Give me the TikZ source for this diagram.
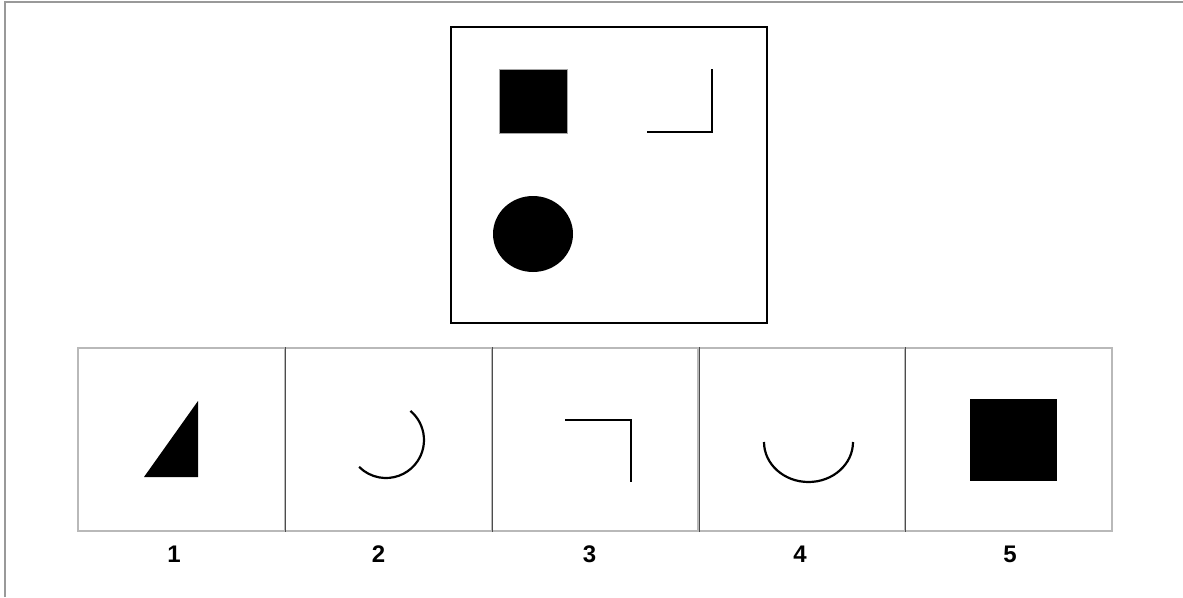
\documentclass[tikz,border=0pt]{standalone}
\usepackage{fontspec}
\setmainfont{Liberation Sans}
\usetikzlibrary{positioning}

\begin{document}
\begin{tikzpicture}[x=1pt, y=-1pt,
    frameStyle/.style={draw, line width=2.6pt, minimum width=316pt, minimum height=296pt, inner sep=0pt},
    cellStyle/.style={draw=gray!55, line width=1.2pt, minimum width=207pt, minimum height=183pt, inner sep=0pt},
    dividerStyle/.style={draw=black!70, line width=1.2pt},
    numStyle/.style={font=\fontsize{24}{28}\selectfont\bfseries, inner sep=0pt},
    solidStyle/.style={fill=black, draw=gray!70, line width=0.8pt},
    strokeStyle/.style={draw, line width=2.2pt}]

    \useasboundingbox (0,0) rectangle (1183,597);
    % page edge
    \draw[gray!80, line width=1.8pt] (5,597) -- (5,2) -- (1183,2);

    % question frame
    \node[frameStyle] (stemBox) at (609, 175) {};
    \filldraw[solidStyle] (499,69) rectangle (567,133);
    \draw[line width=2.8pt] (647,132) -- (712,132) -- (712,69);
    \fill (533,234) ellipse [x radius=40, y radius=38];

    % answer cells
    \node[cellStyle] (cell1) at (181.5, 439.5) {};
    \node[cellStyle] (cell2) at (388.5, 439.5) {};
    \node[cellStyle] (cell3) at (595, 439.5) {};
    \node[cellStyle] (cell4) at (801.5, 439.5) {};
    \node[cellStyle] (cell5) at (1008.5, 439.5) {};
    \draw[dividerStyle] (cell1.north east) -- (cell1.south east);
    \draw[dividerStyle] (cell2.north east) -- (cell2.south east);
    \draw[dividerStyle] (cell3.north east) -- (cell3.south east);
    \draw[dividerStyle] (cell4.north east) -- (cell4.south east);

    % cell contents
    \fill (144,477) -- (198,401) -- (198,477) -- cycle;
    \draw[strokeStyle] (410.4,410.9) arc [start angle=-50, end angle=135, radius=38];
    \draw[strokeStyle] (565,420) -- (631,420) -- (631,482);
    \draw[strokeStyle] (764,442) arc [start angle=180, end angle=0, x radius=44.5, y radius=40];
    \fill (970,399) rectangle (1057,481);

    % option numbers
    \node[numStyle] (num1) at (174, 554.5) {1};
    \node[numStyle] (num2) at (378.5, 554.5) {2};
    \node[numStyle] (num3) at (589.5, 554.5) {3};
    \node[numStyle] (num4) at (800, 554.5) {4};
    \node[numStyle] (num5) at (1010, 554.5) {5};
\end{tikzpicture}
\end{document}
